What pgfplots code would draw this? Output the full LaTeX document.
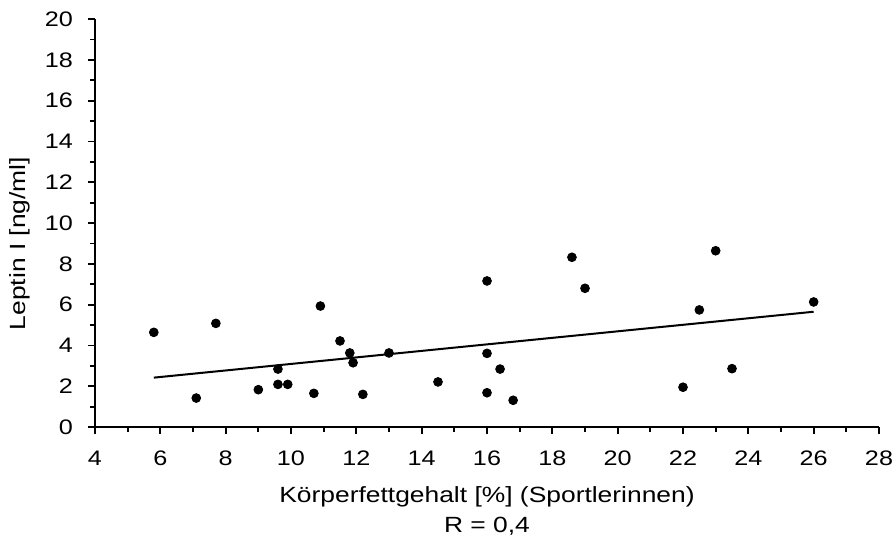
\documentclass[border=0pt]{standalone}
\usepackage{fontspec}
\setmainfont{Liberation Sans}[FakeStretch=1.2]
\usepackage{pgfplots}
\pgfplotsset{compat=1.18}

\begin{document}
\begin{tikzpicture}
\useasboundingbox (-47.5pt,-58pt) rectangle (399.5pt,213.5pt);
\begin{axis}[
    at={(0,0)}, anchor=south west,
    scale only axis,
    width=392pt, height=204pt,
    xmin=4, xmax=28, ymin=0, ymax=20,
    xtick={4,6,...,28}, ytick={0,2,...,20},
    minor xtick={5,7,...,27}, minor ytick={1,3,...,19},
    axis x line*=bottom, axis y line*=left,
    axis line style={line width=1pt},
    tick style={black, line width=0.9pt},
    tick align=outside,
    major tick length=3.5pt, minor tick length=2.5pt,
    font=\fontsize{11}{15}\selectfont,
    tick label style={font=\fontsize{10.5}{12}\selectfont},
    xticklabel style={yshift=-5pt},
    yticklabel style={xshift=-4pt},
    /pgf/number format/assume math mode=true,
    xlabel={Körperfettgehalt [\%] (Sportlerinnen)\\R = 0,4},
    xlabel style={align=center, at={(axis description cs:0.5,0)}, anchor=north, yshift=-26pt},
    ylabel={Leptin I [ng/ml]},
    ylabel style={at={(axis description cs:-0.0957,0.22)}, anchor=west},
    clip=false,
]
\addplot[only marks, mark=*, mark size=2.2pt, black] coordinates {
    (5.8,4.64) (7.1,1.42) (7.7,5.08) (9.0,1.83) (9.6,2.84)
    (9.6,2.09) (9.9,2.09) (10.7,1.65) (10.9,5.93) (11.5,4.22)
    (11.8,3.63) (11.9,3.15) (12.2,1.60) (13.0,3.63) (14.5,2.21)
    (16.0,7.16) (16.0,3.61) (16.0,1.68) (16.4,2.84) (16.8,1.31)
    (18.6,8.32) (19.0,6.80) (22.0,1.95) (22.5,5.74) (23.0,8.64)
    (23.5,2.86) (26.0,6.13)
};
\addplot[black, line width=1pt] coordinates {(5.8,2.42) (26,5.65)};
\end{axis}
\end{tikzpicture}
\end{document}
